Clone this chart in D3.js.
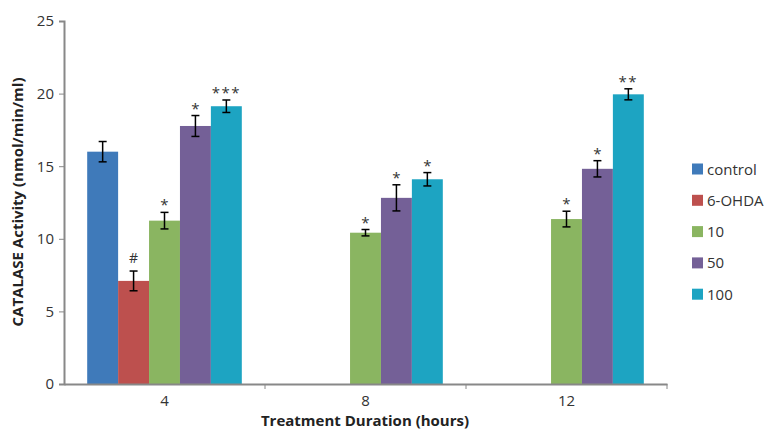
<!DOCTYPE html>
<html><head><meta charset="utf-8">
<script src="https://cdn.jsdelivr.net/npm/d3@7"></script>
<style>body{margin:0;background:#fff;} text{font-family:"Open Sans","Liberation Sans",sans-serif;}</style>
</head><body>
<svg id="c" width="769" height="429"></svg>
<script>
const categories = ["4", "8", "12"];
const seriesNames = ["control", "6-OHDA", "10", "50", "100"];
const seriesColors = ["#3F7ABA", "#BD504E", "#8AB561", "#746097", "#1DA4C2"];
const controlVals = [16.0, null, null];
const ohdaVals = [7.1, null, null];
const d10Vals = [11.25, 10.42, 11.36];
const d50Vals = [17.77, 12.82, 14.82];
const d100Vals = [19.13, 14.1, 19.95];
const controlErr = [0.7, null, null];
const ohdaErr = [0.68, null, null];
const d10Err = [0.57, 0.22, 0.54];
const d50Err = [0.72, 0.9, 0.56];
const d100Err = [0.43, 0.46, 0.38];
const controlMarks = ["", "", ""];
const ohdaMarks = ["#", "", ""];
const d10Marks = ["*", "*", "*"];
const d50Marks = ["*", "*", "*"];
const d100Marks = ["***", "*", "**"];
const yTicks = [0, 5, 10, 15, 20, 25];

const values = [controlVals, ohdaVals, d10Vals, d50Vals, d100Vals];
const errs = [controlErr, ohdaErr, d10Err, d50Err, d100Err];
const marks = [controlMarks, ohdaMarks, d10Marks, d50Marks, d100Marks];

const svg = d3.select("#c");
const L = 64, R = 667, T = 21, B = 384;
const x0 = d3.scaleBand().domain(categories).range([L, R]).paddingInner(0).paddingOuter(0);
const bw = x0.bandwidth() / 6.5;
const y = d3.scaleLinear().domain([0, 25]).range([B, T]);
const xs = d3.scaleBand().domain(seriesNames).range([0, bw * 5]);
const gOff = (x0.bandwidth() - bw * 5) / 2;

const data = [];
seriesNames.forEach((s, si) => categories.forEach((c, ci) => {
  if (values[si][ci] != null) data.push({s, si, c, v: values[si][ci], e: errs[si][ci], m: marks[si][ci]});
}));

// bars
svg.append("g").selectAll("rect").data(data).join("rect")
  .attr("x", d => x0(d.c) + gOff + xs(d.s))
  .attr("y", d => y(d.v))
  .attr("width", xs.bandwidth())
  .attr("height", d => B - y(d.v))
  .attr("fill", d => seriesColors[d.si]);

// error bars
const eg = svg.append("g").attr("stroke", "#000").attr("stroke-width", 1.5);
data.forEach(d => {
  const cx = x0(d.c) + gOff + xs(d.s) + xs.bandwidth() / 2;
  eg.append("line").attr("x1", cx).attr("x2", cx).attr("y1", y(d.v + d.e)).attr("y2", y(d.v - d.e));
  [d.v + d.e, d.v - d.e].forEach(v => eg.append("line").attr("x1", cx - 4).attr("x2", cx + 4).attr("y1", y(v)).attr("y2", y(v)));
  if (d.m) svg.append("text").attr("x", cx).attr("y", y(d.v + d.e) - 8 + (d.m === "#" ? 0 : 6))
    .attr("text-anchor", "middle").attr("font-size", d.m === "#" ? 14 : 15).attr("fill", "#333")
    .attr("letter-spacing", d.m.length > 1 ? 1.5 : 0).text(d.m);
});

// y axis
const ya = svg.append("g").attr("transform", `translate(${L},0)`)
  .call(d3.axisLeft(y).tickValues(yTicks).tickSize(5).tickPadding(5));
ya.select(".domain").attr("stroke", "#888").attr("stroke-width", 2);
ya.selectAll(".tick line").attr("stroke", "#888");
ya.selectAll("text").attr("font-size", 15).attr("fill", "#333").style("font-family", "'Open Sans','Liberation Sans',sans-serif");

// x axis
const xa = svg.append("g").attr("transform", `translate(0,${B})`)
  .call(d3.axisBottom(x0).tickSize(0).tickPadding(11));
xa.select(".domain").attr("stroke", "#888").attr("stroke-width", 2);
xa.selectAll("text").attr("font-size", 15).attr("fill", "#333").style("font-family", "'Open Sans','Liberation Sans',sans-serif");
svg.append("g").selectAll("line").data(categories.slice(1).concat(["end"])).join("line")
  .attr("x1", (d, i) => L + x0.bandwidth() * (i + 1)).attr("x2", (d, i) => L + x0.bandwidth() * (i + 1))
  .attr("y1", B).attr("y2", B + 5).attr("stroke", "#888");

// titles
svg.append("text").attr("x", 365).attr("y", 426).attr("text-anchor", "middle")
  .attr("font-size", 15).attr("font-weight", "bold").attr("fill", "#222").text("Treatment Duration (hours)");
svg.append("text").attr("transform", "translate(23,202) rotate(-90)").attr("text-anchor", "middle")
  .attr("font-size", 15).attr("font-weight", "bold").attr("fill", "#222").text("CATALASE Activity (nmol/min/ml)");

// legend
const lg = svg.append("g").selectAll("g").data(seriesNames).join("g")
  .attr("transform", (d, i) => `translate(692,${169 + i * 31.3})`);
lg.append("rect").attr("x", 0).attr("y", -5.5).attr("width", 11).attr("height", 11).attr("fill", (d, i) => seriesColors[i]);
lg.append("text").attr("x", 15).attr("y", 5.5).attr("font-size", 15).attr("fill", "#333").text(d => d);
</script>
</body></html>
